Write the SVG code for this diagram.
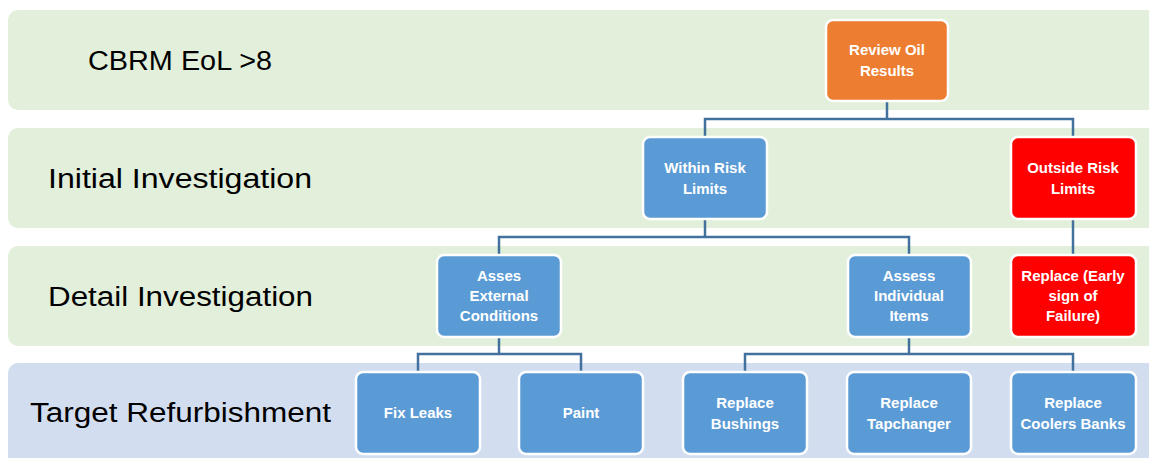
<svg xmlns="http://www.w3.org/2000/svg" width="1149" height="458" viewBox="0 0 1149 458">
<style>
.band-g{fill:#E2EFDA}
.band-b{fill:#D2DEEF}
.lbl{font-family:"Liberation Sans",Arial,sans-serif;font-size:27px;fill:#000}
.node rect{stroke:#fff;stroke-width:2.5}
.blue rect{fill:#5B9BD5}
.orange rect{fill:#ED7D31}
.red rect{fill:#FF0000}
.node text{font-family:"Liberation Sans",Arial,sans-serif;font-weight:bold;font-size:15px;fill:#fff;text-anchor:middle}
#connectors path{fill:none;stroke:#41719C;stroke-width:2.5}
</style>
<rect width="1149" height="458" fill="#fff"/>
<g id="bands">
<rect class="band-g" x="8" y="10" width="1160" height="100" rx="10"/>
<rect class="band-g" x="8" y="128" width="1160" height="100" rx="10"/>
<rect class="band-g" x="8" y="246" width="1160" height="100" rx="10"/>
<rect class="band-b" x="8" y="363" width="1160" height="110" rx="10"/>
<text class="lbl" x="88" y="70" textLength="184" lengthAdjust="spacingAndGlyphs">CBRM EoL &gt;8</text>
<text class="lbl" x="48" y="188" textLength="264" lengthAdjust="spacingAndGlyphs">Initial Investigation</text>
<text class="lbl" x="48" y="306" textLength="265" lengthAdjust="spacingAndGlyphs">Detail Investigation</text>
<text class="lbl" x="30" y="422" textLength="301" lengthAdjust="spacingAndGlyphs">Target Refurbishment</text>
</g>
<g id="connectors">
<path d="M887 101 V119 M705 137 V119 H1073 V137"/>
<path d="M705 219 V237 M499 255 V237 H909 V255"/>
<path d="M1073 219 V255"/>
<path d="M499 337 V354 M418 372 V354 H581 V372"/>
<path d="M909 337 V354 M745 372 V354 H1073 V372"/>
</g>
<g id="review" class="node orange"><rect x="826" y="20" width="122" height="81" rx="7"/><text x="887" y="55">Review Oil</text><text x="887" y="76">Results</text></g>
<g id="within" class="node blue"><rect x="643" y="137" width="124" height="82" rx="7"/><text x="705" y="173">Within Risk</text><text x="705" y="194">Limits</text></g>
<g id="outside" class="node red"><rect x="1011" y="137" width="125" height="82" rx="7"/><text x="1073" y="173">Outside Risk</text><text x="1073" y="194">Limits</text></g>
<g id="external" class="node blue"><rect x="437" y="255" width="124" height="82" rx="7"/><text x="499" y="281">Asses</text><text x="499" y="301">External</text><text x="499" y="321">Conditions</text></g>
<g id="individual" class="node blue"><rect x="848" y="255" width="123" height="82" rx="7"/><text x="909" y="281">Assess</text><text x="909" y="301">Individual</text><text x="909" y="321">Items</text></g>
<g id="replace-early" class="node red"><rect x="1011" y="255" width="125" height="82" rx="7"/><text x="1073" y="281">Replace (Early</text><text x="1073" y="301">sign of</text><text x="1073" y="321">Failure)</text></g>
<g id="fixleaks" class="node blue"><rect x="356" y="372" width="124" height="82" rx="7"/><text x="418" y="418">Fix Leaks</text></g>
<g id="paint" class="node blue"><rect x="519" y="372" width="124" height="82" rx="7"/><text x="581" y="418">Paint</text></g>
<g id="bushings" class="node blue"><rect x="683" y="372" width="124" height="82" rx="7"/><text x="745" y="408">Replace</text><text x="745" y="429">Bushings</text></g>
<g id="tapchanger" class="node blue"><rect x="847" y="372" width="124" height="82" rx="7"/><text x="909" y="408">Replace</text><text x="909" y="429">Tapchanger</text></g>
<g id="coolers" class="node blue"><rect x="1011" y="372" width="125" height="82" rx="7"/><text x="1073" y="408">Replace</text><text x="1073" y="429">Coolers Banks</text></g>
</svg>
